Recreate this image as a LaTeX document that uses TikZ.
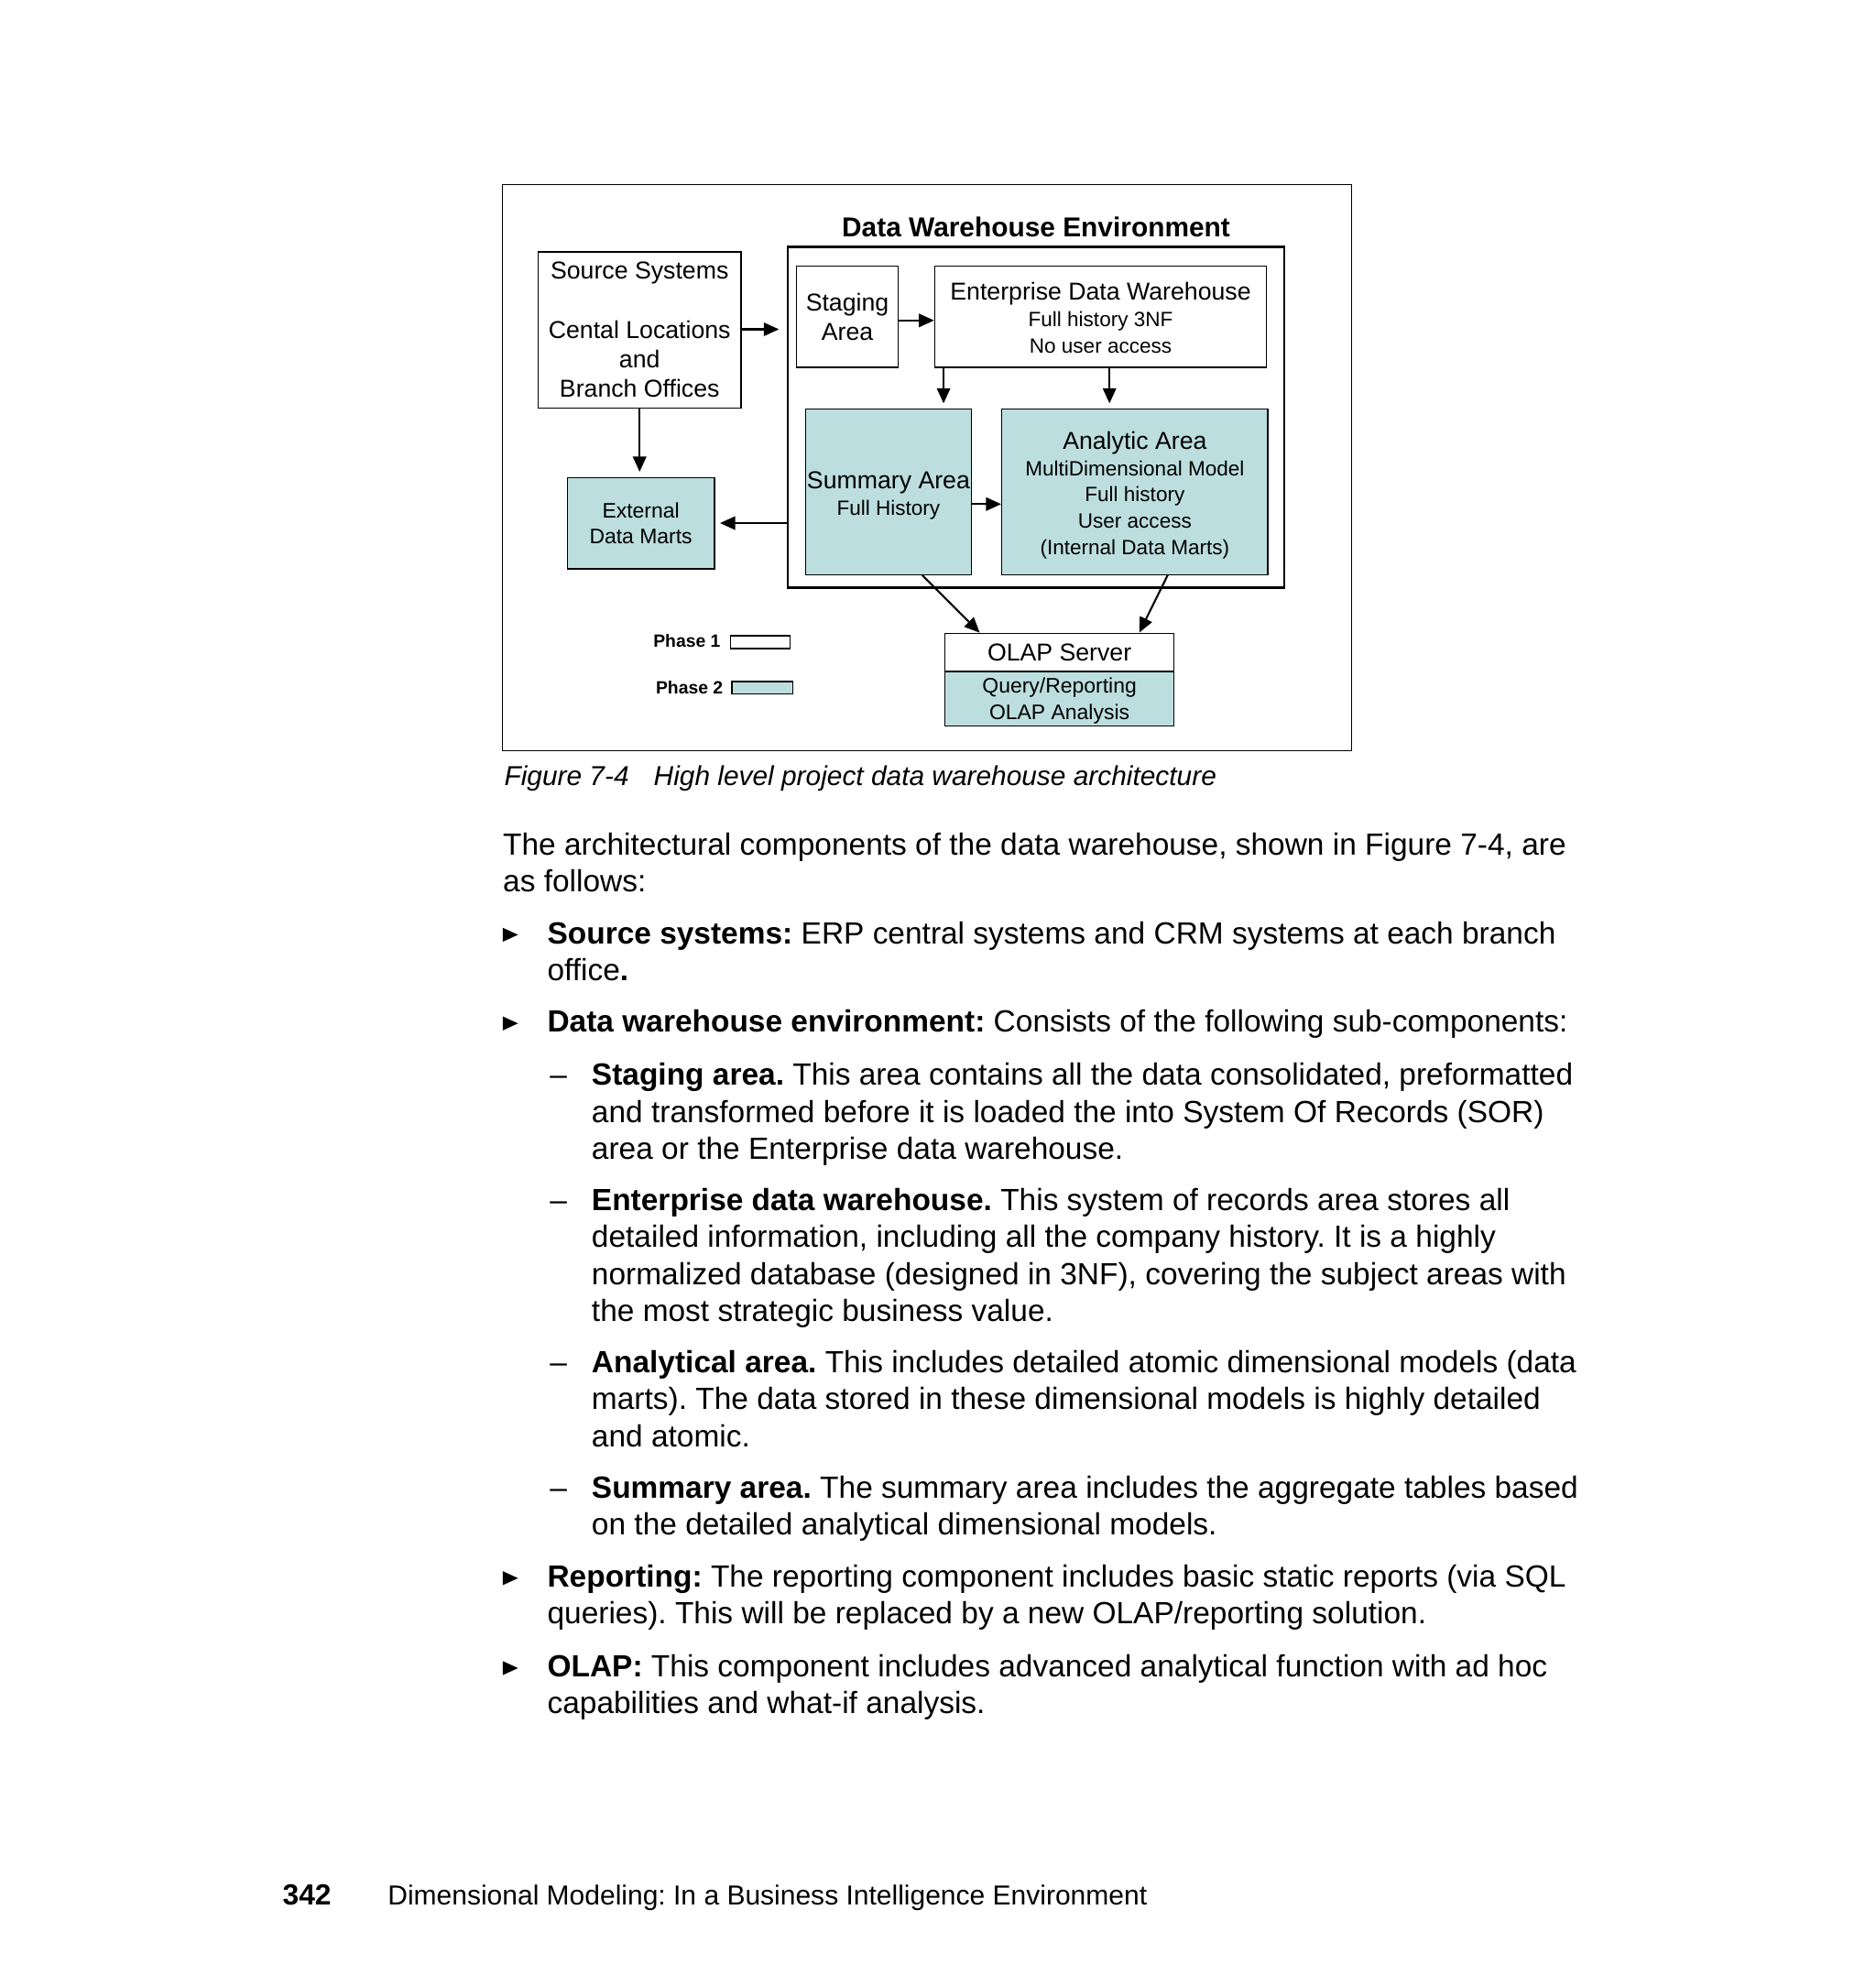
\documentclass[tikz,border=0pt]{standalone}
\usepackage{fontspec}
\setmainfont{Liberation Sans}
\usetikzlibrary{arrows.meta}
\definecolor{phasetwo}{RGB}{189,222,223}
\newcommand\dwBig{\fontsize{19.3}{21}\selectfont}
\newcommand\dwSmall{\fontsize{16.3}{20.7}\selectfont}
\frenchspacing
\begin{document}
\frenchspacing
\begin{tikzpicture}[x=1pt,y=-1pt,
  box/.style={draw=black,line width=1pt,inner sep=0pt,align=center},
  tbox/.style={box,fill=phasetwo},
  lbl/.style={inner sep=0pt,align=center},
  arr/.style={line width=1.5pt,-{Triangle[length=12pt,width=10.5pt]}},
  body/.style={anchor=base west,inner sep=0pt,font=\fontsize{24.2}{29}\selectfont},
  bul/.style={fill=black},
  dashlbl/.style={anchor=base west,inner sep=0pt,font=\fontsize{24.2}{29}\selectfont}
]
\useasboundingbox[fill=white] (0,0) rectangle (1481,1568);

% outer frame
\node[draw=black,line width=0.8pt,minimum width=670pt,minimum height=447pt,inner sep=0pt] (frame) at (732,369.5) {};

% title
\node[inner sep=0pt,font=\fontsize{21.6}{24}\selectfont\bfseries] (title) at (818,179) {Data Warehouse Environment};

% DWE box
\node[draw=black,line width=1.8pt,minimum width=392pt,minimum height=269pt,inner sep=0pt] (dwe) at (818,329.5) {};

% Source systems
\node[box,minimum width=160pt,minimum height=123pt,font=\fontsize{19.3}{23.3}\selectfont] (src) at (505,260.5)
  {Source Systems\\[23.3pt]Cental Locations\\and\\Branch Offices};

% Staging
\node[box,minimum width=80pt,minimum height=80pt,font=\fontsize{19.3}{23}\selectfont] (stg) at (669,250) {Staging\\Area};

% EDW
\node[box,minimum width=262pt,minimum height=80pt] (edw) at (869,250) {};
\node[lbl,font=\dwSmall] (edwL) at ([yshift=-1pt]edw.center)
  {{\dwBig Enterprise Data Warehouse}\\Full history 3NF\\No user access};

% Summary
\node[tbox,minimum width=131pt,minimum height=131pt] (sum) at (701.5,388.5) {};
\node[lbl,font=\dwSmall] (sumL) at ([yshift=-3pt]sum.center)
  {{\dwBig Summary Area}\\Full History};

% Analytic
\node[tbox,minimum width=210pt,minimum height=131pt] (ana) at (896,388.5) {};
\node[lbl,font=\dwSmall] (anaL) at ([yshift=-2.5pt]ana.center)
  {{\dwBig Analytic Area}\\MultiDimensional Model\\Full history\\User access\\(Internal Data Marts)};

% External data marts
\node[tbox,minimum width=116pt,minimum height=72pt,font=\fontsize{16.6}{20.5}\selectfont] (ext) at (506,413)
  {External\\Data Marts};

% OLAP server
\node[box,minimum width=181pt,minimum height=30pt,font=\dwBig] (olap) at (836.5,515) {OLAP Server};
\node[tbox,minimum width=181pt,minimum height=43pt] (olapq) at (836.5,551.5) {};
\node[lbl,font=\fontsize{16.6}{21}\selectfont] (olapqL) at ([yshift=-1.5pt]olapq.center) {Query/Reporting\\OLAP Analysis};

% legend
\node[anchor=east,inner sep=0pt,font=\fontsize{14}{16}\selectfont\bfseries] (p1) at (569,506) {Phase 1};
\node[box,minimum width=47pt,minimum height=10pt] (p1box) at (600.5,507) {};
\node[anchor=east,inner sep=0pt,font=\fontsize{14}{16}\selectfont\bfseries] (p2) at (571,543) {Phase 2};
\node[tbox,minimum width=48pt,minimum height=10pt] (p2box) at (602,543) {};

% arrows
\coordinate (srcTip) at (615,260);
\draw[arr] (src.east |- srcTip) -- (srcTip);
\draw[arr] ([yshift=-3pt]stg.east) -- ([yshift=-3pt]stg.east -| edw.west);
\coordinate (edwA) at (745,290);
\coordinate (edwB) at (876,290);
\draw[arr] (edwA) -- ([yshift=4pt]edwA |- sum.north);
\draw[arr] (edwB) -- ([yshift=4pt]edwB |- ana.north);
\draw[arr] (src.south) -- ([yshift=4pt]src.south |- ext.north);
\draw[arr] (ext.east -| dwe.west) -- ([xshift=4pt]ext.east);
\draw[arr] ([yshift=-9.5pt]sum.east) -- ([yshift=-9.5pt]sum.east -| ana.west);
\coordinate (sumOut) at (728,454);
\coordinate (anaOut) at (922,454);
\draw[arr] (sumOut) -- ([xshift=28pt]olap.north west);
\draw[arr] (anaOut) -- ([xshift=154pt]olap.north west);

% caption
\node[anchor=base west,inner sep=0pt,font=\fontsize{21.6}{25}\selectfont\itshape] (capA) at (398,620.5) {Figure 7-4};
\node[anchor=base west,inner sep=0pt,font=\fontsize{21.6}{25}\selectfont\itshape] (capB) at (516,620.5) {High level project data warehouse architecture};

% body text
\node[body] (t1) at (397,675) {The architectural components of the data warehouse, shown in Figure 7-4, are};
\node[body] (t2) at (397,704) {as follows:};

\fill[bul] (397,732.5) -- (409,738) -- (397,743.5) -- cycle;
\node[body] (t3) at (432,745) {\textbf{Source systems:} ERP central systems and CRM systems at each branch};
\node[body] (t4) at (432,774) {office\textbf{.}};

\fill[bul] (397,802.5) -- (409,808) -- (397,813.5) -- cycle;
\node[body] (t5) at (432,815) {\textbf{Data warehouse environment:} Consists of the following sub-components:};

\node[dashlbl] (d1) at (434,857) {–};
\node[body] (t6) at (467,857) {\textbf{Staging area.} This area contains all the data consolidated, preformatted};
\node[body] (t7) at (467,886) {and transformed before it is loaded the into System Of Records (SOR)};
\node[body] (t8) at (467,915) {area or the Enterprise data warehouse.};

\node[dashlbl] (d2) at (434,956) {–};
\node[body] (t9) at (467,956) {\textbf{Enterprise data warehouse.} This system of records area stores all};
\node[body] (t10) at (467,985) {detailed information, including all the company history. It is a highly};
\node[body] (t11) at (467,1014) {normalized database (designed in 3NF), covering the subject areas with};
\node[body] (t12) at (467,1043) {the most strategic business value.};

\node[dashlbl] (d3) at (434,1084) {–};
\node[body] (t13) at (467,1084) {\textbf{Analytical area.} This includes detailed atomic dimensional models (data};
\node[body] (t14) at (467,1113) {marts). The data stored in these dimensional models is highly detailed};
\node[body] (t15) at (467,1142) {and atomic.};

\node[dashlbl] (d4) at (434,1183) {–};
\node[body] (t16) at (467,1183) {\textbf{Summary area.} The summary area includes the aggregate tables based};
\node[body] (t17) at (467,1212) {on the detailed analytical dimensional models.};

\fill[bul] (397,1240.5) -- (409,1246) -- (397,1251.5) -- cycle;
\node[body] (t18) at (432,1253) {\textbf{Reporting:} The reporting component includes basic static reports (via SQL};
\node[body] (t19) at (432,1282) {queries). This will be replaced by a new OLAP/reporting solution.};

\fill[bul] (397,1311.5) -- (409,1317) -- (397,1322.5) -- cycle;
\node[body] (t20) at (432,1324) {\textbf{OLAP:} This component includes advanced analytical function with ad hoc};
\node[body] (t21) at (432,1353) {capabilities and what-if analysis.};

% footer
\node[anchor=base west,inner sep=0pt,font=\fontsize{23}{26}\selectfont\bfseries] (pg) at (223,1504) {342};
\node[anchor=base west,inner sep=0pt,font=\fontsize{21.7}{26}\selectfont] (ft) at (306,1504) {Dimensional Modeling: In a Business Intelligence Environment};
\end{tikzpicture}
\end{document}
